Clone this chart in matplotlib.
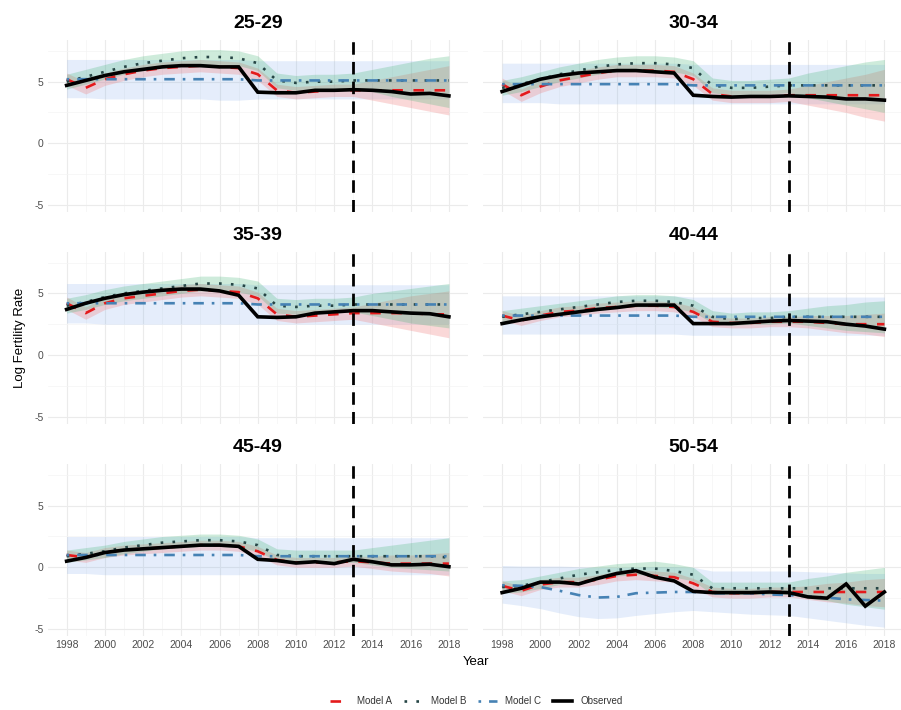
import numpy as np
import matplotlib
matplotlib.use('Agg')
import matplotlib.pyplot as plt
from matplotlib.lines import Line2D

plt.rcParams['font.family'] = ['Liberation Sans', 'DejaVu Sans']
plt.rcParams['axes.unicode_minus'] = False

years = list(range(1998, 2019))
forecast_start = 2013

# 25-29
obs_2529 = [4.7, 5.1, 5.5, 5.8, 6.0, 6.2, 6.3, 6.3, 6.2, 6.2, 4.15, 4.1, 4.1, 4.3, 4.3, 4.35, 4.3, 4.2, 4.0, 4.05, 3.85]
a_2529 = [5.2, 4.5, 5.2, 5.6, 5.9, 6.1, 6.2, 6.3, 6.2, 6.1, 5.6, 4.3, 4.1, 4.2, 4.3, 4.3, 4.3, 4.3, 4.3, 4.3, 4.3]
a_lo_2529 = [4.7, 4.0, 4.7, 5.1, 5.4, 5.6, 5.7, 5.8, 5.7, 5.6, 5.1, 3.8, 3.6, 3.7, 3.8, 3.8, 3.5, 3.2, 2.9, 2.6, 2.3]
a_hi_2529 = [5.7, 5.0, 5.7, 6.1, 6.4, 6.6, 6.7, 6.8, 6.7, 6.6, 6.1, 4.8, 4.6, 4.7, 4.8, 4.8, 5.1, 5.4, 5.7, 6.0, 6.3]
b_2529 = [5.0, 5.4, 5.8, 6.2, 6.5, 6.7, 6.9, 7.0, 7.0, 6.9, 6.5, 5.1, 4.9, 5.0, 5.0, 5.1, 5.1, 5.1, 5.1, 5.1, 5.1]
b_lo_2529 = [4.4, 4.8, 5.2, 5.6, 5.9, 6.1, 6.3, 6.4, 6.4, 6.3, 5.9, 4.5, 4.3, 4.4, 4.4, 4.5, 4.2, 3.8, 3.5, 3.2, 2.9]
b_hi_2529 = [5.6, 6.0, 6.4, 6.8, 7.1, 7.3, 7.5, 7.6, 7.6, 7.5, 7.1, 5.7, 5.5, 5.6, 5.6, 5.7, 6.0, 6.3, 6.6, 6.9, 7.1]
c_2529 = [5.2, 5.2, 5.2, 5.2, 5.2, 5.2, 5.2, 5.2, 5.2, 5.2, 5.1, 5.1, 5.1, 5.1, 5.1, 5.1, 5.1, 5.1, 5.1, 5.1, 5.1]
c_lo_2529 = [3.7, 3.7, 3.6, 3.6, 3.6, 3.6, 3.6, 3.6, 3.5, 3.5, 3.6, 3.6, 3.6, 3.6, 3.6, 3.6, 3.6, 3.6, 3.6, 3.6, 3.6]
c_hi_2529 = [6.8, 6.8, 6.8, 6.8, 6.8, 6.8, 6.8, 6.8, 6.8, 6.8, 6.7, 6.7, 6.7, 6.7, 6.7, 6.7, 6.7, 6.7, 6.7, 6.7, 6.7]

# 30-34
obs_3034 = [4.2, 4.7, 5.2, 5.5, 5.7, 5.8, 5.9, 5.9, 5.8, 5.7, 3.9, 3.8, 3.75, 3.8, 3.8, 3.85, 3.8, 3.75, 3.6, 3.6, 3.5]
a_3034 = [4.8, 3.9, 4.6, 5.1, 5.4, 5.7, 5.9, 5.9, 5.9, 5.8, 5.2, 4.0, 3.8, 3.8, 3.8, 3.9, 3.9, 3.9, 3.9, 3.9, 3.9]
a_lo_3034 = [4.3, 3.4, 4.1, 4.6, 4.9, 5.2, 5.4, 5.4, 5.4, 5.3, 4.7, 3.5, 3.3, 3.3, 3.3, 3.4, 3.1, 2.8, 2.5, 2.1, 1.8]
a_hi_3034 = [5.3, 4.4, 5.1, 5.6, 5.9, 6.2, 6.4, 6.4, 6.4, 6.3, 5.7, 4.5, 4.3, 4.3, 4.3, 4.4, 4.7, 5.0, 5.3, 5.6, 6.0]
b_3034 = [4.5, 4.8, 5.2, 5.6, 5.9, 6.2, 6.4, 6.5, 6.5, 6.4, 6.1, 4.7, 4.5, 4.5, 4.6, 4.7, 4.7, 4.7, 4.7, 4.7, 4.7]
b_lo_3034 = [3.9, 4.2, 4.6, 5.0, 5.3, 5.6, 5.8, 5.9, 5.9, 5.8, 5.5, 4.1, 3.9, 3.9, 4.0, 4.1, 3.7, 3.4, 3.1, 2.8, 2.5]
b_hi_3034 = [5.1, 5.4, 5.8, 6.2, 6.5, 6.8, 7.0, 7.1, 7.1, 7.0, 6.7, 5.3, 5.1, 5.1, 5.2, 5.3, 5.7, 6.0, 6.3, 6.6, 6.8]
c_3034 = [4.8, 4.8, 4.8, 4.8, 4.8, 4.8, 4.8, 4.8, 4.8, 4.8, 4.7, 4.7, 4.7, 4.7, 4.7, 4.7, 4.7, 4.7, 4.7, 4.7, 4.7]
c_lo_3034 = [3.3, 3.3, 3.3, 3.2, 3.2, 3.2, 3.2, 3.2, 3.2, 3.2, 3.2, 3.2, 3.2, 3.2, 3.2, 3.2, 3.2, 3.2, 3.2, 3.2, 3.2]
c_hi_3034 = [6.5, 6.5, 6.5, 6.5, 6.5, 6.5, 6.5, 6.5, 6.5, 6.5, 6.4, 6.4, 6.4, 6.4, 6.4, 6.4, 6.4, 6.4, 6.4, 6.4, 6.4]

# 35-39
obs_3539 = [3.7, 4.2, 4.6, 4.9, 5.1, 5.25, 5.35, 5.35, 5.2, 4.85, 3.1, 3.05, 3.1, 3.4, 3.5, 3.6, 3.6, 3.5, 3.4, 3.35, 3.1]
a_3539 = [4.2, 3.4, 4.2, 4.6, 4.8, 5.0, 5.2, 5.3, 5.2, 5.1, 4.6, 3.3, 3.1, 3.2, 3.3, 3.4, 3.4, 3.4, 3.4, 3.3, 3.3]
a_lo_3539 = [3.7, 2.9, 3.7, 4.1, 4.3, 4.5, 4.7, 4.8, 4.7, 4.6, 4.1, 2.8, 2.6, 2.7, 2.8, 2.9, 2.6, 2.3, 2.0, 1.7, 1.4]
a_hi_3539 = [4.7, 3.9, 4.7, 5.1, 5.3, 5.5, 5.7, 5.8, 5.7, 5.6, 5.1, 3.8, 3.6, 3.7, 3.8, 3.9, 4.2, 4.5, 4.8, 5.0, 5.2]
b_3539 = [4.0, 4.3, 4.7, 5.0, 5.2, 5.4, 5.6, 5.8, 5.8, 5.7, 5.4, 4.0, 3.9, 4.0, 4.0, 4.1, 4.1, 4.1, 4.1, 4.1, 4.1]
b_lo_3539 = [3.4, 3.7, 4.1, 4.4, 4.6, 4.8, 5.0, 5.2, 5.2, 5.1, 4.8, 3.4, 3.3, 3.4, 3.4, 3.5, 3.2, 2.9, 2.6, 2.4, 2.2]
b_hi_3539 = [4.6, 4.9, 5.3, 5.6, 5.8, 6.0, 6.2, 6.4, 6.4, 6.3, 6.0, 4.6, 4.5, 4.6, 4.6, 4.7, 5.0, 5.2, 5.4, 5.6, 5.8]
c_3539 = [4.2, 4.2, 4.2, 4.2, 4.2, 4.2, 4.2, 4.2, 4.2, 4.2, 4.1, 4.1, 4.1, 4.1, 4.1, 4.1, 4.1, 4.1, 4.1, 4.1, 4.1]
c_lo_3539 = [2.6, 2.6, 2.5, 2.5, 2.5, 2.5, 2.5, 2.5, 2.5, 2.5, 2.5, 2.5, 2.5, 2.5, 2.5, 2.5, 2.5, 2.5, 2.5, 2.5, 2.5]
c_hi_3539 = [5.8, 5.8, 5.8, 5.8, 5.8, 5.8, 5.8, 5.8, 5.8, 5.8, 5.7, 5.7, 5.7, 5.7, 5.7, 5.7, 5.7, 5.7, 5.7, 5.7, 5.7]

# 40-44
obs_4044 = [2.55, 2.85, 3.1, 3.3, 3.5, 3.7, 3.85, 4.05, 4.05, 4.05, 2.55, 2.55, 2.55, 2.65, 2.75, 2.8, 2.75, 2.7, 2.5, 2.35, 2.1]
a_4044 = [3.2, 2.8, 3.2, 3.5, 3.6, 3.8, 3.9, 4.0, 4.0, 3.9, 3.5, 2.7, 2.6, 2.6, 2.7, 2.7, 2.7, 2.6, 2.5, 2.5, 2.5]
a_lo_4044 = [2.8, 2.4, 2.8, 3.1, 3.2, 3.4, 3.5, 3.6, 3.6, 3.5, 3.1, 2.3, 2.2, 2.2, 2.3, 2.3, 2.2, 2.0, 1.8, 1.7, 1.5]
a_hi_4044 = [3.6, 3.2, 3.6, 3.9, 4.0, 4.2, 4.3, 4.4, 4.4, 4.3, 3.9, 3.1, 3.0, 3.0, 3.1, 3.1, 3.2, 3.2, 3.2, 3.3, 3.4]
b_4044 = [3.1, 3.3, 3.5, 3.7, 3.9, 4.1, 4.3, 4.4, 4.4, 4.3, 4.0, 3.1, 2.9, 3.0, 3.0, 3.1, 3.1, 3.1, 3.1, 3.1, 3.1]
b_lo_4044 = [2.6, 2.8, 3.0, 3.2, 3.4, 3.6, 3.8, 3.9, 3.9, 3.8, 3.5, 2.6, 2.4, 2.5, 2.5, 2.6, 2.4, 2.2, 2.0, 1.9, 1.8]
b_hi_4044 = [3.6, 3.8, 4.0, 4.2, 4.4, 4.6, 4.8, 4.9, 4.9, 4.8, 4.5, 3.6, 3.4, 3.5, 3.5, 3.6, 3.8, 4.0, 4.1, 4.3, 4.4]
c_4044 = [3.2, 3.2, 3.2, 3.2, 3.2, 3.2, 3.2, 3.2, 3.2, 3.2, 3.1, 3.1, 3.1, 3.1, 3.1, 3.1, 3.1, 3.1, 3.1, 3.1, 3.1]
c_lo_4044 = [1.7, 1.7, 1.7, 1.7, 1.7, 1.7, 1.7, 1.7, 1.7, 1.7, 1.6, 1.6, 1.6, 1.6, 1.6, 1.6, 1.6, 1.6, 1.6, 1.6, 1.6]
c_hi_4044 = [4.8, 4.8, 4.8, 4.8, 4.8, 4.8, 4.8, 4.8, 4.8, 4.8, 4.7, 4.7, 4.7, 4.7, 4.7, 4.7, 4.7, 4.7, 4.7, 4.7, 4.7]

# 45-49
obs_4549 = [0.5, 0.8, 1.2, 1.4, 1.5, 1.6, 1.7, 1.8, 1.8, 1.7, 0.65, 0.55, 0.35, 0.45, 0.3, 0.65, 0.45, 0.2, 0.2, 0.25, 0.05]
a_4549 = [1.0, 0.8, 1.2, 1.4, 1.5, 1.6, 1.7, 1.8, 1.8, 1.7, 1.3, 0.6, 0.4, 0.4, 0.4, 0.5, 0.4, 0.3, 0.3, 0.3, 0.3]
a_lo_4549 = [0.6, 0.4, 0.8, 1.0, 1.1, 1.2, 1.3, 1.4, 1.4, 1.3, 0.9, 0.2, 0.0, 0.0, 0.0, 0.1, -0.1, -0.3, -0.4, -0.5, -0.7]
a_hi_4549 = [1.4, 1.2, 1.6, 1.8, 1.9, 2.0, 2.1, 2.2, 2.2, 2.1, 1.7, 1.0, 0.8, 0.8, 0.8, 0.9, 0.9, 1.0, 1.0, 1.1, 1.2]
b_4549 = [0.9, 1.1, 1.3, 1.6, 1.8, 2.0, 2.1, 2.2, 2.2, 2.1, 1.8, 1.0, 0.9, 0.9, 0.9, 0.9, 0.9, 0.9, 0.9, 0.9, 0.8]
b_lo_4549 = [0.4, 0.6, 0.8, 1.1, 1.3, 1.5, 1.6, 1.7, 1.7, 1.6, 1.3, 0.5, 0.4, 0.4, 0.4, 0.4, 0.2, 0.0, -0.1, -0.2, -0.3]
b_hi_4549 = [1.4, 1.6, 1.8, 2.1, 2.3, 2.5, 2.6, 2.7, 2.7, 2.6, 2.3, 1.5, 1.4, 1.4, 1.4, 1.4, 1.6, 1.8, 2.0, 2.2, 2.4]
c_4549 = [1.0, 1.0, 1.0, 1.0, 1.0, 1.0, 1.0, 1.0, 1.0, 1.0, 0.9, 0.9, 0.9, 0.9, 0.9, 0.9, 0.9, 0.9, 0.9, 0.9, 0.9]
c_lo_4549 = [-0.5, -0.5, -0.6, -0.6, -0.6, -0.6, -0.6, -0.6, -0.6, -0.6, -0.6, -0.6, -0.6, -0.6, -0.6, -0.6, -0.6, -0.6, -0.6, -0.6, -0.6]
c_hi_4549 = [2.5, 2.5, 2.5, 2.5, 2.5, 2.5, 2.5, 2.5, 2.5, 2.5, 2.4, 2.4, 2.4, 2.4, 2.4, 2.4, 2.4, 2.4, 2.4, 2.4, 2.4]

# 50-54
obs_5054 = [-2.05, -1.7, -1.2, -1.2, -1.35, -0.9, -0.5, -0.27, -0.8, -1.1, -1.95, -2.05, -2.05, -2.05, -2.0, -2.05, -2.4, -2.5, -1.35, -3.15, -2.0]
a_5054 = [-1.5, -1.9, -1.4, -1.2, -1.2, -1.0, -0.7, -0.6, -0.7, -0.8, -1.3, -2.0, -2.1, -2.1, -2.0, -2.0, -2.0, -2.0, -2.0, -2.0, -2.0]
a_lo_5054 = [-1.9, -2.3, -1.8, -1.6, -1.6, -1.4, -1.1, -1.0, -1.1, -1.2, -1.7, -2.4, -2.5, -2.5, -2.4, -2.4, -2.6, -2.8, -2.9, -3.1, -3.2]
a_hi_5054 = [-1.1, -1.5, -1.0, -0.8, -0.8, -0.6, -0.3, -0.2, -0.3, -0.4, -0.9, -1.6, -1.7, -1.7, -1.6, -1.6, -1.5, -1.3, -1.2, -1.0, -0.9]
b_5054 = [-1.6, -1.5, -1.2, -0.9, -0.6, -0.4, -0.2, -0.1, -0.1, -0.3, -0.6, -1.7, -1.7, -1.7, -1.7, -1.7, -1.7, -1.7, -1.7, -1.7, -1.7]
b_lo_5054 = [-2.1, -2.0, -1.7, -1.4, -1.1, -0.9, -0.7, -0.6, -0.6, -0.8, -1.1, -2.2, -2.2, -2.2, -2.2, -2.2, -2.5, -2.7, -3.0, -3.2, -3.4]
b_hi_5054 = [-1.1, -1.0, -0.7, -0.4, -0.1, 0.1, 0.3, 0.4, 0.5, 0.3, 0.0, -1.2, -1.2, -1.2, -1.2, -1.2, -0.9, -0.7, -0.4, -0.2, 0.0]
c_5054 = [-1.45, -1.5, -1.6, -1.9, -2.25, -2.45, -2.4, -2.1, -2.05, -2.0, -2.0, -2.1, -2.1, -2.1, -2.2, -2.25, -2.35, -2.45, -2.6, -2.65, -2.7]
c_lo_5054 = [-2.9, -3.1, -3.35, -3.7, -4.0, -4.15, -4.1, -3.9, -3.75, -3.6, -3.5, -3.6, -3.7, -3.8, -3.85, -3.9, -4.1, -4.3, -4.5, -4.7, -4.85]
c_hi_5054 = [0.15, 0.1, 0.1, 0.1, 0.05, 0.0, 0.0, 0.0, 0.05, 0.05, 0.0, -0.3, -0.3, -0.3, -0.3, -0.3, -0.35, -0.4, -0.45, -0.5, -0.5]

panel_titles = ['25-29', '30-34', '35-39', '40-44', '45-49', '50-54']
panels = [
    (obs_2529, a_2529, a_lo_2529, a_hi_2529, b_2529, b_lo_2529, b_hi_2529, c_2529, c_lo_2529, c_hi_2529),
    (obs_3034, a_3034, a_lo_3034, a_hi_3034, b_3034, b_lo_3034, b_hi_3034, c_3034, c_lo_3034, c_hi_3034),
    (obs_3539, a_3539, a_lo_3539, a_hi_3539, b_3539, b_lo_3539, b_hi_3539, c_3539, c_lo_3539, c_hi_3539),
    (obs_4044, a_4044, a_lo_4044, a_hi_4044, b_4044, b_lo_4044, b_hi_4044, c_4044, c_lo_4044, c_hi_4044),
    (obs_4549, a_4549, a_lo_4549, a_hi_4549, b_4549, b_lo_4549, b_hi_4549, c_4549, c_lo_4549, c_hi_4549),
    (obs_5054, a_5054, a_lo_5054, a_hi_5054, b_5054, b_lo_5054, b_hi_5054, c_5054, c_lo_5054, c_hi_5054),
]

col_a = '#E41A1C'
col_b = '#264545'
col_c = '#4682B4'
fill_a = '#F08080'
fill_b = '#3CB371'
fill_c = '#6F9FEA'

W, H = 901, 710
fig = plt.figure(figsize=(W / 100, H / 100), dpi=100)

lefts = [47.5, 483]
tops = [40, 251.7, 464]
pw, ph = 420.5, 172

model_lw = 1.9
for i, (title, p) in enumerate(zip(panel_titles, panels)):
    obs, a, a_lo, a_hi, b, b_lo, b_hi, c, c_lo, c_hi = p
    row, col = divmod(i, 2)
    ax = fig.add_axes([lefts[col] / W, 1 - (tops[row] + ph) / H, pw / W, ph / H])

    # intervals first, then the lines on top
    ax.fill_between(years, c_lo, c_hi, color=fill_c, alpha=0.18, lw=0)
    ax.fill_between(years, a_lo, a_hi, color=fill_a, alpha=0.3, lw=0)
    ax.fill_between(years, b_lo, b_hi, color=fill_b, alpha=0.25, lw=0)

    ax.plot(years, a, color=col_a, lw=model_lw, dashes=(4, 4))
    ax.plot(years, b, color=col_b, lw=model_lw, dashes=(1, 3.5))
    ax.plot(years, c, color=col_c, lw=model_lw, dashes=(1, 3, 4, 3))
    ax.plot(years, obs, color='black', lw=2.6, solid_joinstyle='miter')
    ax.axvline(forecast_start, color='black', lw=2.0, dashes=(4.5, 2.6))

    ax.set_xlim(1997, 2019)
    ax.set_ylim(-5.57, 8.38)
    ax.set_xticks(range(1998, 2019, 2))
    ax.set_xticks(range(1999, 2019, 2), minor=True)
    ax.set_yticks([-5, 0, 5])
    ax.set_yticks([-2.5, 2.5, 7.5], minor=True)
    ax.grid(which='major', color='#EBEBEB', lw=0.8)
    ax.grid(which='minor', color='#F4F4F4', lw=0.5)
    ax.set_axisbelow(True)
    for s in ax.spines.values():
        s.set_visible(False)
    ax.tick_params(which='both', length=0, labelsize=7.5, labelcolor='#4D4D4D', pad=3)
    if col == 1:
        ax.tick_params(labelleft=False)
    if row < 2:
        ax.tick_params(labelbottom=False)
    ax.set_title(title, fontsize=14, fontweight='bold', pad=8.5)

fig.text(20 / W, 1 - 338 / H, 'Log Fertility Rate', rotation=90, ha='center', va='center', fontsize=9.5)
fig.text(476 / W, 1 - 662 / H, 'Year', ha='center', va='center', fontsize=9.5)

handles = [
    Line2D([], [], color=col_a, lw=model_lw, dashes=(4, 4)),
    Line2D([], [], color=col_b, lw=model_lw, dashes=(1, 3.5)),
    Line2D([], [], color=col_c, lw=model_lw, dashes=(1, 3, 4, 3)),
    Line2D([], [], color='black', lw=2.6),
]
fig.legend(handles, ['Model A', 'Model B', 'Model C', 'Observed'], loc='center',
           bbox_to_anchor=(476 / W, 1 - 701 / H), ncol=4, frameon=False, fontsize=7,
           labelcolor='#333333', handlelength=2.0, columnspacing=1.2, handletextpad=0.8)

fig.savefig('out.png', dpi=100)
